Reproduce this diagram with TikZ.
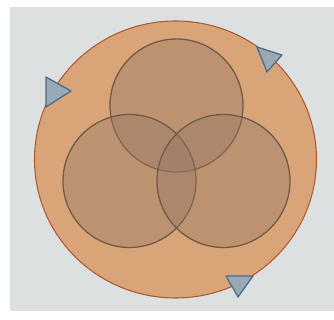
\documentclass[tikz,border=0pt]{standalone}
\usepackage{xcolor}
\definecolor{bgGray}{RGB}{221,224,224}
\definecolor{outerFill}{RGB}{216,164,120}
\definecolor{outerLine}{RGB}{176,88,48}
\definecolor{setFill}{RGB}{150,120,100}
\definecolor{setLine}{RGB}{112,90,72}
\definecolor{markFill}{RGB}{152,168,180}
\definecolor{markLine}{RGB}{78,108,135}

\begin{document}
\begin{tikzpicture}[x=0.03cm, y=-0.03cm,
  outer/.style={draw=outerLine, line width=0.9pt, fill=outerFill},
  set/.style={draw=setLine, line width=1.1pt, fill=setFill, fill opacity=0.4},
  arrowmark/.style={draw=markLine, line width=1.1pt, fill=markFill, line join=round}]
\useasboundingbox (0,0) rectangle (334,320);
%%%%%%%%%%%%%%%%%%%
\fill[white] (0,0) rectangle (334,320);
\fill[bgGray] (10,7) rectangle (334,311);
%%%%%%%%%%%%%%%%%%%
\draw[outer] (175.5,159.5) ellipse (141 and 138.5);
\draw[set] (176.5,105.5) circle (66.5);
\draw[set] (129.5,181) circle (66.5);
\draw[set] (223.5,181) circle (66.5);
%%%%%%%%%%%%%%%%%%%
\draw[arrowmark] (46,77) -- (71,91) -- (46,107) -- cycle;
\draw[arrowmark] (257,47) -- (282,55) -- (267,72) -- cycle;
\draw[arrowmark] (226,276) -- (253,276) -- (238,297) -- cycle;
\end{tikzpicture}
\end{document}
